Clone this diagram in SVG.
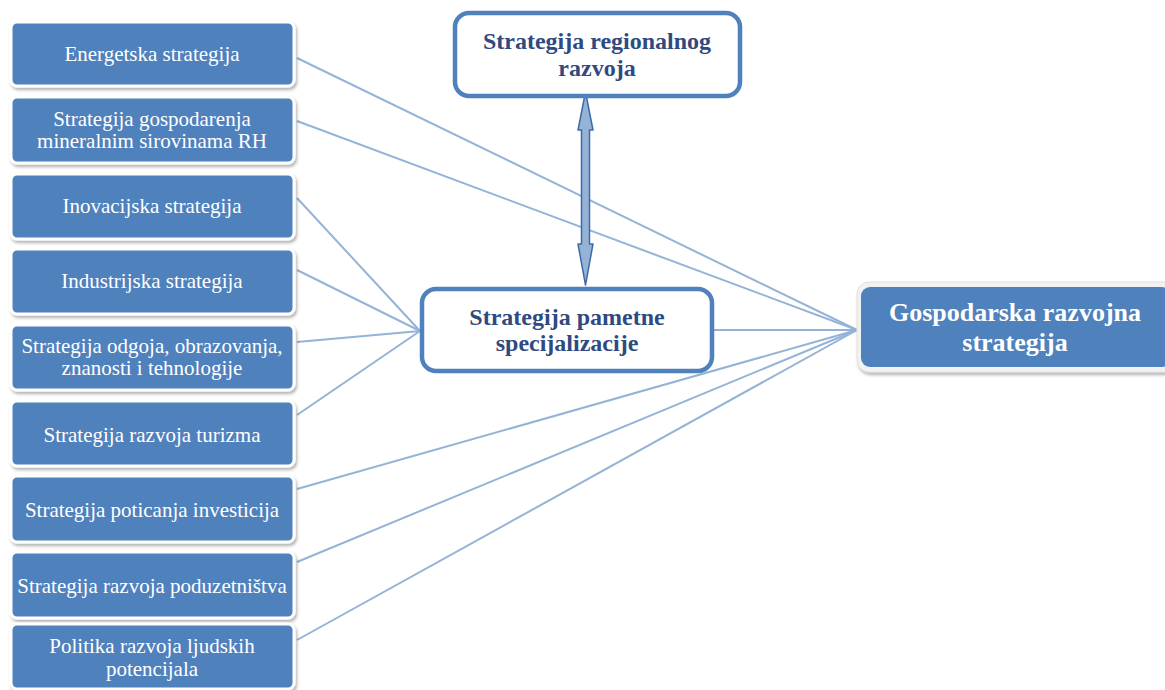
<svg xmlns="http://www.w3.org/2000/svg" width="1165" height="690" viewBox="0 0 1165 690">
<defs>
<style>
.lb{fill:#4F81BD;stroke:#ffffff;stroke-width:3}
.lt{font-family:'Liberation Serif','Times New Roman',serif;font-size:21px;fill:#ffffff;text-anchor:middle}
.ob{fill:#ffffff;stroke:#4F81BD;stroke-width:4.5}
.ot{font-family:'Liberation Serif','Times New Roman',serif;font-size:24px;font-weight:bold;fill:#2F4A7F;text-anchor:middle}
.gt{font-family:'Liberation Serif','Times New Roman',serif;font-size:26px;font-weight:bold;fill:#ffffff;text-anchor:middle}
.cn{stroke:#95B3D7;stroke-width:2;fill:none}
</style>
<filter id="sh" x="-10%" y="-20%" width="125%" height="150%">
<feDropShadow dx="1.5" dy="2.5" stdDeviation="1.5" flood-color="#000000" flood-opacity="0.3"/>
</filter>
</defs>
<rect width="1165" height="690" fill="#ffffff"/>
<g id="connectors">
<line class="cn" x1="297" y1="58" x2="857" y2="330"/>
<line class="cn" x1="297" y1="121" x2="857" y2="330"/>
<line class="cn" x1="297" y1="198" x2="420" y2="331"/>
<line class="cn" x1="297" y1="270" x2="420" y2="331"/>
<line class="cn" x1="297" y1="342" x2="420" y2="331"/>
<line class="cn" x1="297" y1="415" x2="420" y2="331"/>
<line class="cn" x1="297" y1="489" x2="857" y2="330"/>
<line class="cn" x1="297" y1="562" x2="857" y2="330"/>
<line class="cn" x1="297" y1="640" x2="857" y2="330"/>
<line class="cn" x1="712" y1="330" x2="857" y2="330"/>
<path id="double-arrow" d="M585.5,92 L593,130 L589.5,130 L589.5,244 L593,244 L585.5,285 L578,244 L581.5,244 L581.5,130 L578,130 Z" fill="#95B3D7" stroke="#3F6AA6" stroke-width="1.5" stroke-linejoin="round"/>
</g>
<g id="n1"><rect class="lb" x="11" y="22" width="283" height="64" rx="6" filter="url(#sh)"/><text class="lt" x="152" y="61">Energetska strategija</text></g>
<g id="n2"><rect class="lb" x="11" y="97" width="283" height="66" rx="6" filter="url(#sh)"/><text class="lt" x="152" y="126">Strategija gospodarenja</text><text class="lt" x="152" y="148">mineralnim sirovinama RH</text></g>
<g id="n3"><rect class="lb" x="11" y="174" width="283" height="65" rx="6" filter="url(#sh)"/><text class="lt" x="152" y="213">Inovacijska strategija</text></g>
<g id="n4"><rect class="lb" x="11" y="249" width="283" height="65" rx="6" filter="url(#sh)"/><text class="lt" x="152" y="288">Industrijska strategija</text></g>
<g id="n5"><rect class="lb" x="11" y="325" width="283" height="65" rx="6" filter="url(#sh)"/><text class="lt" x="152" y="353">Strategija odgoja, obrazovanja,</text><text class="lt" x="152" y="375">znanosti i tehnologije</text></g>
<g id="n6"><rect class="lb" x="11" y="401" width="283" height="65" rx="6" filter="url(#sh)"/><text class="lt" x="152" y="442">Strategija razvoja turizma</text></g>
<g id="n7"><rect class="lb" x="11" y="476" width="283" height="66" rx="6" filter="url(#sh)"/><text class="lt" x="152" y="517">Strategija poticanja investicija</text></g>
<g id="n8"><rect class="lb" x="11" y="552" width="283" height="66" rx="6" filter="url(#sh)"/><text class="lt" x="152" y="593">Strategija razvoja poduzetništva</text></g>
<g id="n9"><rect class="lb" x="11" y="624" width="283" height="65" rx="6" filter="url(#sh)"/><text class="lt" x="152" y="653">Politika razvoja ljudskih</text><text class="lt" x="152" y="676">potencijala</text></g>
<g id="regionalni"><rect class="ob" x="455" y="13" width="285" height="83" rx="14"/><text class="ot" x="597" y="49">Strategija regionalnog</text><text class="ot" x="597" y="76">razvoja</text></g>
<g id="pametna"><rect class="ob" x="422" y="289" width="290" height="82" rx="14"/><text class="ot" x="567" y="325">Strategija pametne</text><text class="ot" x="567" y="351">specijalizacije</text></g>
<g id="gospodarska"><rect x="857" y="282" width="320" height="90" rx="12" fill="#f2f2f2" stroke="#e0e0e0" stroke-width="1" filter="url(#sh)"/><rect x="861" y="287" width="310" height="80" rx="9" fill="#4F81BD"/><text class="gt" x="1015" y="321">Gospodarska razvojna</text><text class="gt" x="1015" y="351">strategija</text></g>
</svg>
